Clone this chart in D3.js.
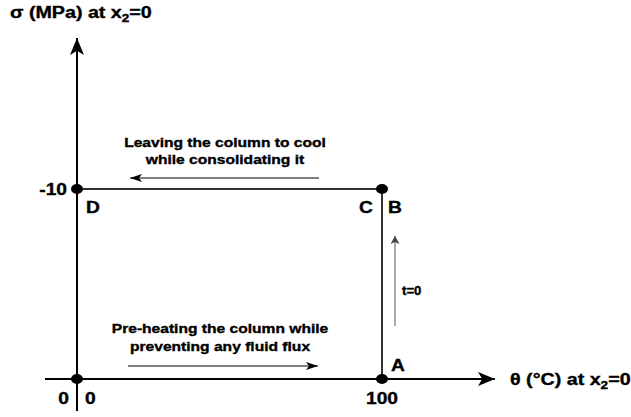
<!DOCTYPE html>
<html>
<head>
<meta charset="utf-8">
<script src="https://cdn.jsdelivr.net/npm/d3@7"></script>
<style>
  body { margin: 0; background: #fff; }
  text { font-family: "Liberation Sans", Arial, sans-serif; font-weight: 700; fill: #000;
         stroke: #000; stroke-width: 0.35px; }
</style>
</head>
<body>
<svg id="chart" width="631" height="417"></svg>
<script>
// corners of the loading path (theta in degC, sigma in MPa)
const cornerNames = ["O", "A", "B", "D"];
const thetaValues = [0, 100, 100, 0];
const sigmaValues = [0, 0, -10, -10];
const xTickLabels = [0, 100];
const yTickLabels = [-10];

const svg = d3.select("#chart");
const SX = 1.2; // the text in the original is a bit wide

const x = d3.scaleLinear().domain([0, 100]).range([77, 382]);
const y = d3.scaleLinear().domain([0, -10]).range([379, 189]);

// text helper, stretched horizontally
function label(px, py, txt, size, anchor, sx) {
  return svg.append("text")
    .attr("transform", `translate(${px},${py}) scale(${sx || SX},1)`)
    .attr("text-anchor", anchor || "start")
    .style("font-size", size + "px")
    .text(txt);
}

const defs = svg.append("defs");
function marker(id, w, h, color) {
  defs.append("marker")
    .attr("id", id)
    .attr("viewBox", `0 0 ${w} ${h}`)
    .attr("refX", w).attr("refY", h / 2)
    .attr("markerWidth", w).attr("markerHeight", h)
    .attr("markerUnits", "userSpaceOnUse")
    .attr("orient", "auto")
    .append("path")
    .attr("d", `M0,0L${w},${h / 2}L0,${h}L${w * 0.25},${h / 2}Z`)
    .attr("fill", color);
}
marker("big", 17, 14, "#000");
marker("small", 12, 8, "#000");
marker("gray", 8, 9, "#444");

// axes
svg.append("line")
  .attr("x1", x(0)).attr("x2", x(0))
  .attr("y1", 411).attr("y2", 38)
  .attr("stroke", "#000").attr("stroke-width", 2)
  .attr("marker-end", "url(#big)");
svg.append("line")
  .attr("x1", 45).attr("x2", 495)
  .attr("y1", y(0)).attr("y2", y(0))
  .attr("stroke", "#000").attr("stroke-width", 2)
  .attr("marker-end", "url(#big)");

// path D-B-A
const pts = d3.range(thetaValues.length).map(i => ({
  name: cornerNames[i], t: thetaValues[i], s: sigmaValues[i]
}));
svg.append("path")
  .attr("d", d3.line().x(d => x(d.t)).y(d => y(d.s))([pts[3], pts[2], pts[1]]))
  .attr("fill", "none")
  .attr("stroke", "#333")
  .attr("stroke-width", 2);

svg.selectAll(".dot")
  .data(pts)
  .enter()
  .append("ellipse")
  .attr("class", "dot")
  .attr("cx", d => x(d.t))
  .attr("cy", d => y(d.s))
  .attr("rx", 6)
  .attr("ry", 5)
  .attr("fill", "#000");

// tick labels
label(x(0) - 8, y(0) + 25, xTickLabels[0], 16, "end");
label(x(0) + 8, y(0) + 25, xTickLabels[0], 16);
label(x(xTickLabels[1]), y(0) + 25, xTickLabels[1], 16, "middle");
label(x(0) - 10, y(yTickLabels[0]) + 6, yTickLabels[0], 16, "end");

// corner letters
label(x(100) + 9, y(0) - 8, "A", 16);
label(x(100) + 6, y(-10) + 24, "B", 16);
label(x(100) - 23, y(-10) + 24, "C", 16);
label(x(0) + 9, y(-10) + 24, "D", 16);

// axis titles
const yTitle = label(10, 18, "", 16, "start", 1.23);
yTitle.append("tspan").text("σ (MPa) at x");
yTitle.append("tspan").attr("dy", 4).style("font-size", "11px").text("2");
yTitle.append("tspan").attr("dy", -4).text("=0");

const xTitle = label(510, y(0) + 6, "", 16, "start", 1.23);
xTitle.append("tspan").text("θ (°C) at x");
xTitle.append("tspan").attr("dy", 4).style("font-size", "11px").text("2");
xTitle.append("tspan").attr("dy", -4).text("=0");

// annotations
label(225, 147, "Leaving the column to cool", 13, "middle");
label(225, 164, "while consolidating it", 13, "middle");
svg.append("line")
  .attr("x1", 319).attr("x2", 130).attr("y1", 178).attr("y2", 178)
  .attr("stroke", "#000").attr("stroke-width", 1)
  .attr("marker-end", "url(#small)");

label(220, 333, "Pre-heating the column while", 13, "middle");
label(220, 351, "preventing any fluid flux", 13, "middle");
svg.append("line")
  .attr("x1", 128).attr("x2", 318).attr("y1", 366).attr("y2", 366)
  .attr("stroke", "#000").attr("stroke-width", 1)
  .attr("marker-end", "url(#small)");

svg.append("line")
  .attr("x1", 395).attr("x2", 395).attr("y1", 326).attr("y2", 236)
  .attr("stroke", "#555").attr("stroke-width", 1)
  .attr("marker-end", "url(#gray)");
label(402, 295, "t=0", 12, "start", 1.1);
</script>
</body>
</html>
